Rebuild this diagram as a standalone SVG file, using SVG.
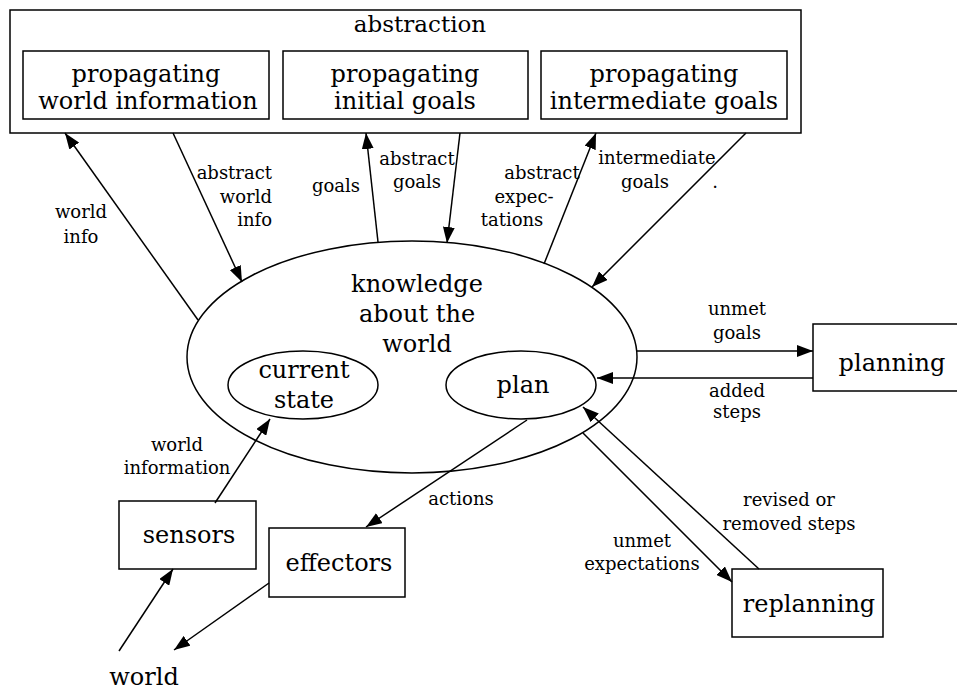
<svg xmlns="http://www.w3.org/2000/svg" width="957" height="694" viewBox="0 0 957 694">
  <defs>
    <marker id="arrow" viewBox="0 0 16 12" refX="16" refY="6" markerWidth="16" markerHeight="12" markerUnits="userSpaceOnUse" orient="auto">
      <path d="M0,0 L16,6 L0,12 z" fill="#000"/>
    </marker>
    <style>
      .box { fill: #fff; stroke: #000; stroke-width: 1.5; }
      .oval { fill: none; stroke: #000; stroke-width: 1.5; }
      .node { font-family: "DejaVu Serif", "Liberation Serif", serif; font-size: 24px; fill: #000; text-anchor: middle; }
      .lbl { font-family: "DejaVu Serif", "Liberation Serif", serif; font-size: 18px; fill: #000; text-anchor: middle; }
      .conn line { stroke: #000; stroke-width: 1.5; fill: none; }
      .arr { marker-end: url(#arrow); }
    </style>
  </defs>

  <rect width="957" height="694" fill="#fff"/>

  <!-- abstraction module with its three sub-processes -->
  <g id="abstraction">
    <rect class="box" x="10" y="10" width="791" height="123"/>
    <text class="node" x="420" y="32" style="font-size:23px">abstraction</text>
  </g>
  <g id="prop-world">
    <rect class="box" x="23" y="51" width="246" height="68"/>
    <text class="node" x="146" y="82">propagating</text>
    <text class="node" x="148" y="109">world information</text>
  </g>
  <g id="prop-initial">
    <rect class="box" x="283" y="51" width="245" height="68"/>
    <text class="node" x="405" y="82">propagating</text>
    <text class="node" x="405" y="109">initial goals</text>
  </g>
  <g id="prop-intermediate">
    <rect class="box" x="541" y="51" width="246" height="68"/>
    <text class="node" x="664" y="82">propagating</text>
    <text class="node" x="664" y="109">intermediate goals</text>
  </g>

  <!-- world model -->
  <g id="knowledge">
    <ellipse class="oval" cx="412" cy="357" rx="225" ry="116"/>
    <text class="node" x="417" y="292">knowledge</text>
    <text class="node" x="417" y="322">about the</text>
    <text class="node" x="417" y="352">world</text>
  </g>
  <g id="current-state">
    <ellipse class="oval" cx="303" cy="385" rx="75" ry="34"/>
    <text class="node" x="304" y="378">current</text>
    <text class="node" x="304" y="408">state</text>
  </g>
  <g id="plan">
    <ellipse class="oval" cx="521" cy="385" rx="75" ry="34"/>
    <text class="node" x="523" y="393">plan</text>
  </g>

  <g id="planning">
    <rect class="box" x="813" y="324" width="150" height="67"/>
    <text class="node" x="892" y="371">planning</text>
  </g>
  <g id="replanning">
    <rect class="box" x="732" y="569" width="151" height="68"/>
    <text class="node" x="809" y="612">replanning</text>
  </g>
  <g id="sensors">
    <rect class="box" x="119" y="501" width="137" height="68"/>
    <text class="node" x="189" y="543">sensors</text>
  </g>
  <g id="effectors">
    <rect class="box" x="269" y="528" width="136" height="69"/>
    <text class="node" x="339" y="571">effectors</text>
  </g>
  <g id="world">
    <text class="node" x="144" y="685">world</text>
  </g>

  <!-- connectors -->
  <g id="connectors" class="conn">
    <line class="arr" x1="198" y1="320" x2="65" y2="133"/>
    <line class="arr" x1="173" y1="133" x2="242" y2="282"/>
    <line class="arr" x1="378" y1="242" x2="366" y2="133"/>
    <line class="arr" x1="460" y1="133" x2="447" y2="243"/>
    <line class="arr" x1="544" y1="264" x2="596" y2="133"/>
    <line class="arr" x1="746" y1="133" x2="592" y2="287"/>
    <line class="arr" x1="637" y1="351" x2="813" y2="351"/>
    <line class="arr" x1="813" y1="378" x2="597" y2="378"/>
    <line class="arr" x1="583" y1="433" x2="732" y2="582"/>
    <line class="arr" x1="759" y1="569" x2="583" y2="407"/>
    <line class="arr" x1="527" y1="420" x2="366" y2="527"/>
    <line class="arr" x1="215" y1="503" x2="270" y2="419"/>
    <line class="arr" x1="119" y1="651" x2="173" y2="569"/>
    <line class="arr" x1="269" y1="583" x2="174" y2="650"/>
  </g>

  <!-- connector labels -->
  <g id="labels">
    <text class="lbl" x="81" y="218">world</text>
    <text class="lbl" x="81" y="243">info</text>
    <text class="lbl" x="272" y="179" style="text-anchor:end">abstract</text>
    <text class="lbl" x="272" y="203" style="text-anchor:end">world</text>
    <text class="lbl" x="272" y="226" style="text-anchor:end">info</text>
    <text class="lbl" x="336" y="192">goals</text>
    <text class="lbl" x="417" y="165">abstract</text>
    <text class="lbl" x="417" y="188">goals</text>
    <text class="lbl" x="542" y="179">abstract</text>
    <text class="lbl" x="524" y="203">expec-</text>
    <text class="lbl" x="512" y="226">tations</text>
    <text class="lbl" x="657" y="164">intermediate</text>
    <text class="lbl" x="645" y="188">goals</text>
    <text class="lbl" x="715" y="188">.</text>
    <text class="lbl" x="737" y="315">unmet</text>
    <text class="lbl" x="737" y="339">goals</text>
    <text class="lbl" x="737" y="397">added</text>
    <text class="lbl" x="737" y="418">steps</text>
    <text class="lbl" x="789" y="506">revised or</text>
    <text class="lbl" x="789" y="530">removed steps</text>
    <text class="lbl" x="642" y="547">unmet</text>
    <text class="lbl" x="642" y="570">expectations</text>
    <text class="lbl" x="461" y="505">actions</text>
    <text class="lbl" x="177" y="451">world</text>
    <text class="lbl" x="177" y="474">information</text>
  </g>
</svg>
